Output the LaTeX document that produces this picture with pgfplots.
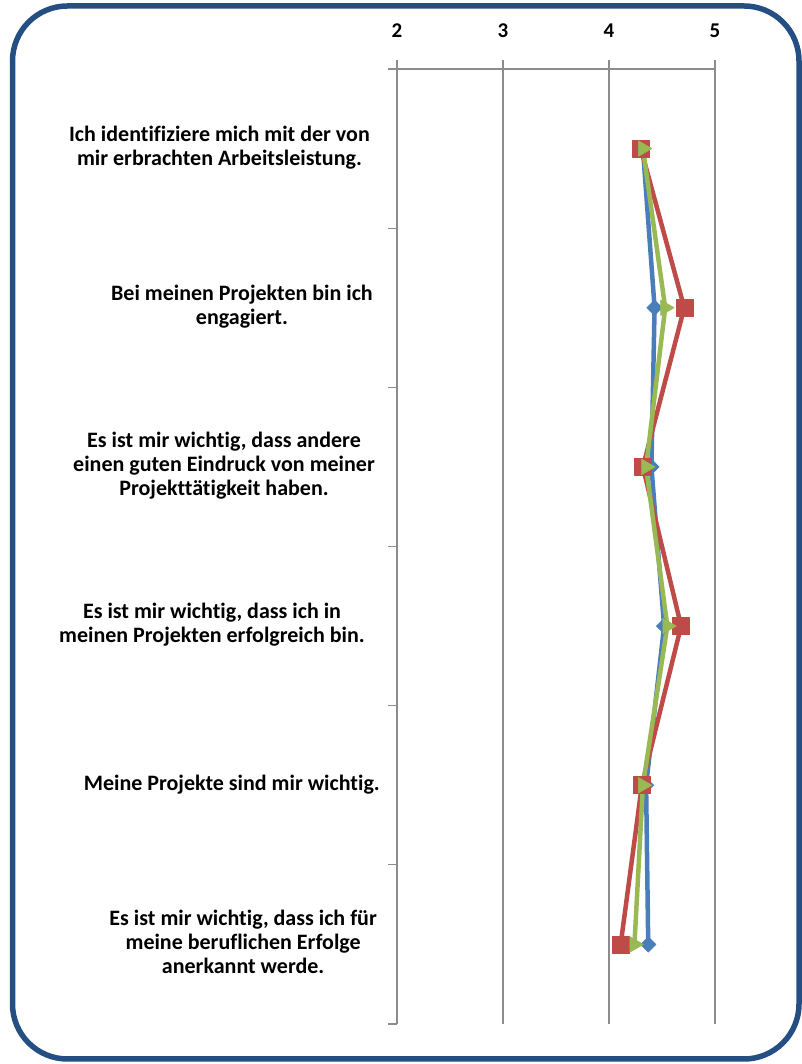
\documentclass[border=0pt]{standalone}
\usepackage{pgfplots}
\pgfplotsset{compat=1.18}
\usepackage{fontspec}
\setmainfont{Carlito}[Ligatures=NoCommon]

\definecolor{frameblue}{HTML}{254E82}
\definecolor{sblue}{HTML}{4A7EBB}
\definecolor{sred}{HTML}{BE4B48}
\definecolor{sgreen}{HTML}{98B954}
\definecolor{axisgray}{HTML}{8C8C8C}

% category label: centred lines, #1 = room between text and axis
\newcommand{\lbl}[2][20pt]{\fontsize{22}{24}\selectfont\bfseries\begin{tabular}{@{}c@{\hspace{#1}}}#2\end{tabular}}

\begin{document}
\begin{tikzpicture}[x=1pt,y=1pt]
\useasboundingbox (0,0) rectangle (802,1064);
\begin{axis}[
  scale only axis, width=318pt, height=955pt,
  at={(397pt,40pt)}, anchor=south west,
  xmin=2, xmax=5, ymin=0.5, ymax=6.5,
  axis x line*=top, axis y line*=left,
  axis line style={axisgray, line width=1.2pt},
  tick align=outside, major tick length=9pt,
  tick style={axisgray, line width=1.2pt},
  xtick={2,3,4,5},
  xmajorgrids, grid style={axisgray, line width=1.2pt},
  xticklabel style={font=\fontsize{21}{24}\selectfont\bfseries, anchor=base, yshift=22pt},
  /pgf/number format/assume math mode=true,
  ytick={0.5,1.5,...,6.5}, yticklabels={},
  extra y ticks={1,2,3,4,5,6},
  extra y tick labels={
    {\lbl[20pt]{Es ist mir wichtig, dass ich für\\meine beruflichen Erfolge\\anerkannt werde.}},
    {\lbl[17pt]{Meine Projekte sind mir wichtig.}},
    {\lbl[32pt]{Es ist mir wichtig, dass ich in\\meinen Projekten erfolgreich bin.}},
    {\lbl[22pt]{Es ist mir wichtig, dass andere\\einen guten Eindruck von meiner\\Projekttätigkeit haben.}},
    {\lbl[24pt]{Bei meinen Projekten bin ich\\engagiert.}},
    {\lbl[27pt]{Ich identifiziere mich mit der von\\mir erbrachten Arbeitsleistung.}}},
  extra y tick style={major tick length=0pt,
    yticklabel style={anchor=east, inner sep=0pt}},
  clip=false,
  every axis plot/.append style={line width=4.5pt, line join=round},
]
% Mittelwerte je Aussage (oberste Aussage bei y=6)
\addplot[sblue, mark=square*, mark size=5.5pt,
  mark options={fill=sblue, draw=sblue, line width=0.5pt, rotate=45}]
  coordinates {(4.32,6) (4.43,5) (4.40,4) (4.52,3) (4.35,2) (4.37,1)};
\addplot[sred, mark=square*, mark size=8.5pt,
  mark options={fill=sred, draw=sred, line width=0.5pt}]
  coordinates {(4.30,6) (4.71,5) (4.32,4) (4.68,3) (4.31,2) (4.11,1)};
\addplot[sgreen, mark=triangle*, mark size=9pt,
  mark options={fill=sgreen, draw=sgreen, line width=0.5pt, rotate=-90}]
  coordinates {(4.32,6) (4.53,5) (4.35,4) (4.55,3) (4.32,2) (4.24,1)};
\end{axis}
\draw[frameblue, line width=5.5pt, rounded corners=55pt] (12.5,5) rectangle (799,1058);
\end{tikzpicture}
\end{document}
